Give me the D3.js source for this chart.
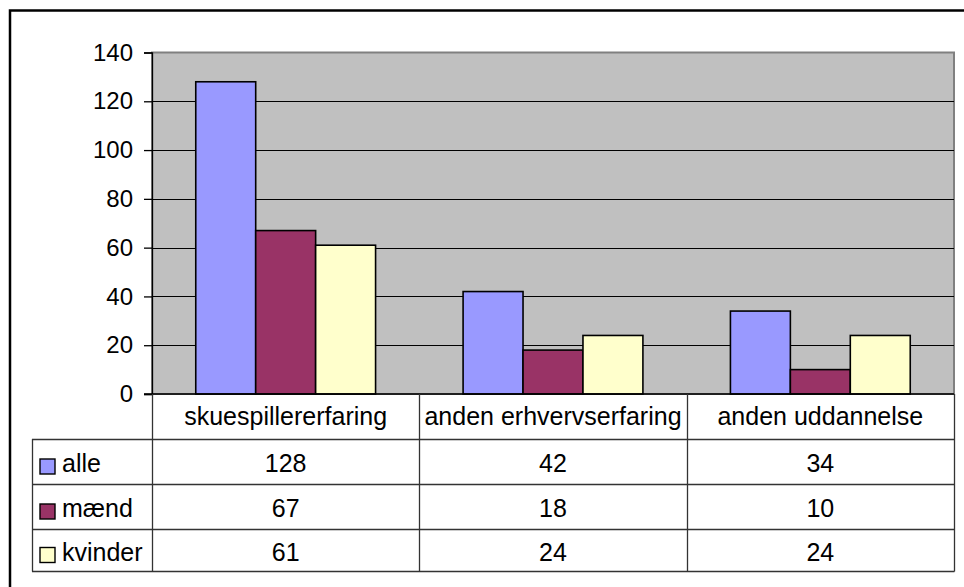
<!DOCTYPE html>
<html>
<head>
<meta charset="utf-8">
<script src="https://cdn.jsdelivr.net/npm/d3@7"></script>
<style>
  html, body { margin: 0; padding: 0; background: #ffffff; }
  svg { display: block; }
  text { font-family: "Liberation Sans", Arial, sans-serif; fill: #000; }
</style>
</head>
<body>
<svg id="chart" width="964" height="587"></svg>
<script>
const categories = ["skuespillererfaring", "anden erhvervserfaring", "anden uddannelse"];
const seriesNames = ["alle", "mænd", "kvinder"];
const alle = [128, 42, 34];
const maend = [67, 18, 10];
const kvinder = [61, 24, 24];
const yTicks = [0, 20, 40, 60, 80, 100, 120, 140];
const seriesColors = ["#9999FF", "#993366", "#FFFFCC"];

const seriesValues = [alle, maend, kvinder];

const svg = d3.select("#chart");

// outer chart frame (extends beyond view)
svg.append("rect")
  .attr("x", 10).attr("y", 10.5)
  .attr("width", 1000).attr("height", 700)
  .attr("fill", "#fff").attr("stroke", "#000").attr("stroke-width", 2.5);

const plot = { left: 152, right: 954, top: 52.5, bottom: 394 };

const y = d3.scaleLinear().domain([0, 140]).range([plot.bottom, plot.top]);
const x = d3.scaleBand().domain(categories).range([plot.left, plot.right]).padding(0);
const xs = d3.scaleBand().domain(seriesNames).range([0, x.bandwidth()])
  .paddingInner(0).paddingOuter(0.73);

// plot area background
svg.append("rect")
  .attr("x", plot.left).attr("y", plot.top)
  .attr("width", plot.right - plot.left).attr("height", plot.bottom - plot.top)
  .attr("fill", "#C0C0C0").attr("stroke", "#808080").attr("stroke-width", 2);

// gridlines
svg.append("g").selectAll("line")
  .data(yTicks.filter(d => d > 0 && d < 140))
  .join("line")
  .attr("x1", plot.left).attr("x2", plot.right)
  .attr("y1", d => Math.round(y(d)) + 0.5).attr("y2", d => Math.round(y(d)) + 0.5)
  .attr("stroke", "#000").attr("stroke-width", 1);

// bars
const groups = svg.append("g").selectAll("g")
  .data(categories)
  .join("g")
  .attr("transform", d => `translate(${x(d)},0)`);

groups.selectAll("rect")
  .data((c, ci) => seriesNames.map((s, si) => ({ s, si, v: seriesValues[si][ci] })))
  .join("rect")
  .attr("x", d => xs(d.s))
  .attr("width", xs.bandwidth())
  .attr("y", d => y(d.v))
  .attr("height", d => y(0) - y(d.v))
  .attr("fill", d => seriesColors[d.si])
  .attr("stroke", "#000").attr("stroke-width", 1.6);

// y axis
const yAxis = d3.axisLeft(y).tickValues(yTicks).tickSize(8).tickPadding(11).tickFormat(d3.format("d"));
const ya = svg.append("g").attr("transform", `translate(${plot.left},0)`).call(yAxis);
ya.select(".domain").attr("stroke", "#000").attr("stroke-width", 1.3);
ya.selectAll(".tick line").attr("stroke", "#000").attr("stroke-width", 1.3);
ya.selectAll("text").attr("font-size", "24px").attr("font-family", "Liberation Sans, Arial, sans-serif").attr("fill", "#000");

// x axis baseline
svg.append("line")
  .attr("x1", 144).attr("x2", plot.right)
  .attr("y1", plot.bottom).attr("y2", plot.bottom)
  .attr("stroke", "#000").attr("stroke-width", 1.5);

// data table
const rowTops = [394, 439, 484, 529, 571];
const tableLeft = 32;
const lineColor = "#333";
const fs = "25px";
const tbl = svg.append("g");

// horizontal lines
tbl.selectAll("line.h")
  .data(rowTops.slice(1))
  .join("line")
  .attr("class", "h")
  .attr("x1", tableLeft).attr("x2", plot.right + 0.5)
  .attr("y1", d => d + 0.5).attr("y2", d => d + 0.5)
  .attr("stroke", lineColor).attr("stroke-width", 1.3);

// vertical lines
const colEdges = categories.map(c => x(c)).concat([plot.right]);
tbl.selectAll("line.v")
  .data(colEdges)
  .join("line")
  .attr("class", "v")
  .attr("x1", d => Math.round(d) + 0.5).attr("x2", d => Math.round(d) + 0.5)
  .attr("y1", plot.bottom).attr("y2", rowTops[4] + 0.5)
  .attr("stroke", lineColor).attr("stroke-width", 1.3);
tbl.append("line")
  .attr("x1", tableLeft + 0.5).attr("x2", tableLeft + 0.5)
  .attr("y1", rowTops[1]).attr("y2", rowTops[4] + 0.5)
  .attr("stroke", lineColor).attr("stroke-width", 1.3);

// category labels
tbl.selectAll("text.cat")
  .data(categories)
  .join("text")
  .attr("class", "cat")
  .attr("x", d => x(d) + x.bandwidth() / 2)
  .attr("y", (rowTops[0] + rowTops[1]) / 2 + 8.5)
  .attr("text-anchor", "middle")
  .attr("font-size", fs)
  .text(d => d);

// rows
seriesNames.forEach((s, si) => {
  const cy = (rowTops[si + 1] + rowTops[si + 2]) / 2;
  tbl.append("rect")
    .attr("x", 40).attr("y", cy - 2.5)
    .attr("width", 15).attr("height", 15)
    .attr("fill", seriesColors[si]).attr("stroke", "#000").attr("stroke-width", 1.4);
  tbl.append("text")
    .attr("x", 62).attr("y", cy + 10.5)
    .attr("font-size", fs)
    .text(s);
  tbl.selectAll(null)
    .data(categories)
    .join("text")
    .attr("x", d => x(d) + x.bandwidth() / 2)
    .attr("y", cy + 10.5)
    .attr("text-anchor", "middle")
    .attr("font-size", fs)
    .text((d, ci) => seriesValues[si][ci]);
});
</script>
</body>
</html>
